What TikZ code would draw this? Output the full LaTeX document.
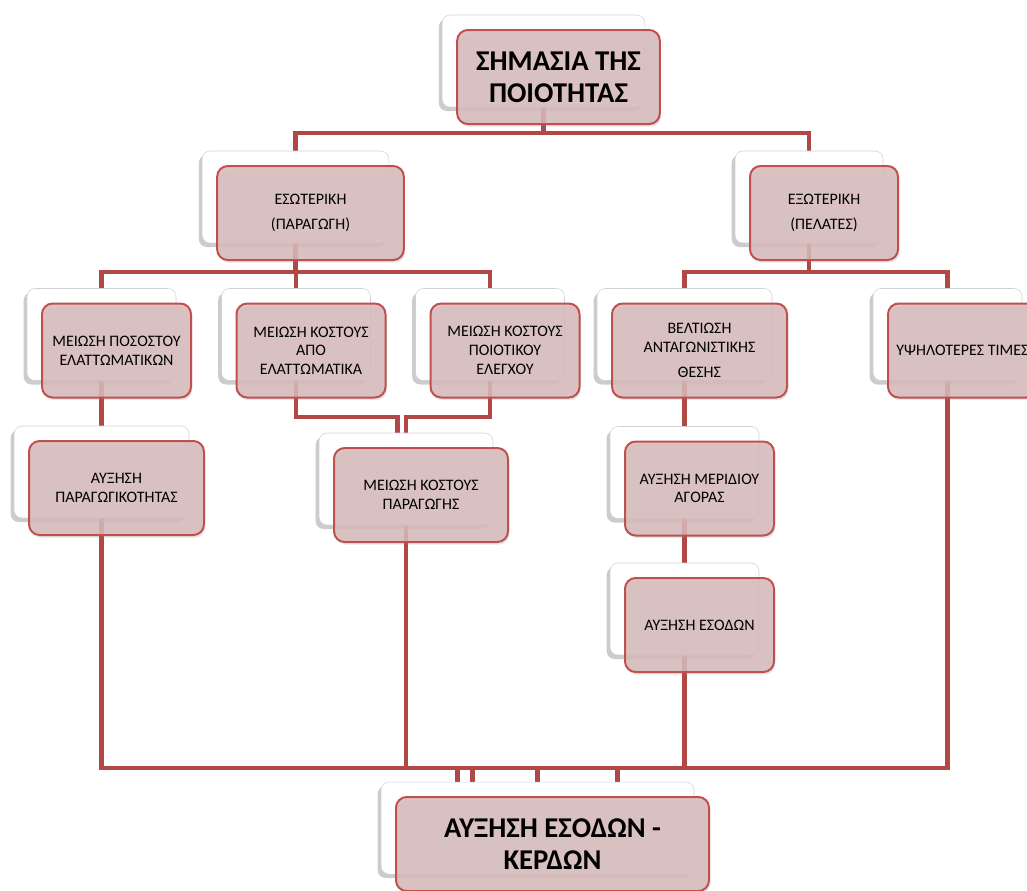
\documentclass[tikz,border=0pt]{standalone}
\usepackage{fontspec}
\setmainfont{Carlito}
\usetikzlibrary{shadows,backgrounds,calc}

\definecolor{accred}{RGB}{192,80,77}
\definecolor{linered}{RGB}{178,72,70}
\definecolor{boxpink}{RGB}{217,187,187}

\begin{document}
\begin{tikzpicture}[x=0.75pt, y=-0.75pt,
  backbox/.style={draw=black!18, fill=white, rounded corners=6pt, minimum width=#1, minimum height=69pt,
    drop shadow={shadow xshift=-2.5pt, shadow yshift=-3pt, opacity=0.4}},
  frontbox/.style={draw=accred, line width=1.5pt, fill=boxpink, fill opacity=0.85, text opacity=1,
    rounded corners=8pt, minimum width=#1, minimum height=70.5pt, align=center, inner xsep=1pt,
    font=\fontsize{12}{14}\selectfont, drop shadow={shadow xshift=1pt, shadow yshift=-2pt, opacity=0.2}},
  big/.style={font=\fontsize{21.5}{24}\selectfont\bfseries},
  conn/.style={draw=linered, line width=3.5pt}]
  \useasboundingbox (0,0) rectangle (1027,890);
  \clip (0,0) rectangle (1027,890);

  % Top
  \node[backbox=152pt] (topb) at (543.5,61) {};
  \node[frontbox=152pt, big] (top) at (558.5,77) {ΣΗΜΑΣΙΑ ΤΗΣ\\ΠΟΙΟΤΗΤΑΣ};

  % Level 2
  \node[backbox=140pt] (esob) at (295.5,197) {};
  \node[frontbox=140pt] (eso) at (310.5,213) {ΕΣΩΤΕΡΙΚΗ\\[5pt](ΠΑΡΑΓΩΓΗ)};
  \node[backbox=111pt] (exob) at (809,197) {};
  \node[frontbox=111pt] (exo) at (824,213) {ΕΞΩΤΕΡΙΚΗ\\[5pt](ΠΕΛΑΤΕΣ)};

  % Level 3
  \node[backbox=111.75pt] (posb) at (101.5,334.5) {};
  \node[frontbox=111.75pt] (pos) at (116.5,350.5) {ΜΕΙΩΣΗ ΠΟΣΟΣΤΟΥ\\ΕΛΑΤΤΩΜΑΤΙΚΩΝ};
  \node[backbox=111.75pt] (elab) at (296,334.5) {};
  \node[frontbox=111.75pt] (ela) at (311,350.5) {ΜΕΙΩΣΗ ΚΟΣΤΟΥΣ\\ΑΠΟ\\ΕΛΑΤΤΩΜΑΤΙΚΑ};
  \node[backbox=111.75pt] (elegb) at (490,334.5) {};
  \node[frontbox=111.75pt] (eleg) at (505,350.5) {ΜΕΙΩΣΗ ΚΟΣΤΟΥΣ\\ΠΟΙΟΤΙΚΟΥ\\ΕΛΕΓΧΟΥ};
  \node[backbox=131.25pt] (thesb) at (684.5,334.5) {};
  \node[frontbox=131.25pt] (thes) at (699.5,350.5) {ΒΕΛΤΙΩΣΗ\\ΑΝΤΑΓΩΝΙΣΤΙΚΗΣ\\[5pt]ΘΕΣΗΣ};
  \node[backbox=111.75pt] (timb) at (947.5,334.5) {};
  \node[frontbox=111.75pt] (tim) at (962.5,350.5) {ΥΨΗΛΟΤΕΡΕΣ ΤΙΜΕΣ};

  % Level 4
  \node[backbox=131.25pt] (parb) at (101.5,472) {};
  \node[frontbox=131.25pt] (par) at (116.5,488) {ΑΥΞΗΣΗ\\ΠΑΡΑΓΩΓΙΚΟΤΗΤΑΣ};
  \node[backbox=130.5pt] (kosb) at (406,479) {};
  \node[frontbox=130.5pt] (kos) at (421,495) {ΜΕΙΩΣΗ ΚΟΣΤΟΥΣ\\ΠΑΡΑΓΩΓΗΣ};
  \node[backbox=111.75pt] (merb) at (684.5,472.5) {};
  \node[frontbox=111.75pt] (mer) at (699.5,488.5) {ΑΥΞΗΣΗ ΜΕΡΙΔΙΟΥ\\ΑΓΟΡΑΣ};

  % Level 5
  \node[backbox=111.75pt] (esodb) at (684.5,609) {};
  \node[frontbox=111.75pt] (esod) at (699.5,625) {ΑΥΞΗΣΗ ΕΣΟΔΩΝ};

  % Bottom
  \node[backbox=234.75pt] (kerb) at (537.5,828) {};
  \node[frontbox=234.75pt, big] (ker) at (552.5,844) {ΑΥΞΗΣΗ ΕΣΟΔΩΝ -\\ΚΕΡΔΩΝ};
  \coordinate (bottombus) at (537.5,768);

  % Connectors
  \begin{scope}[on background layer]
    \fill[white] (0,0) rectangle (1027,890);
    \draw[conn] (topb.center) -- ++(0,72) -| (esob.center);
    \draw[conn] (topb.center) -- ++(0,72) -| (exob.center);

    \draw[conn] (esob.center) -- ++(0,75) -| (posb.center);
    \draw[conn] (esob.center) -- ++(0,75) -| (elab.center);
    \draw[conn] (esob.center) -- ++(0,75) -| (elegb.center);
    \draw[conn] (exob.center) -- ++(0,75) -| (thesb.center);
    \draw[conn] (exob.center) -- ++(0,75) -| (timb.center);

    \draw[conn] (posb.center) -- (parb.center);
    \draw[conn] (elab.center) -- ++(0,82.5) -| ($(kosb.center)+(-8.5,0)$);
    \draw[conn] (elegb.center) -- ++(0,82.5) -| (kosb.center);
    \draw[conn] (thesb.center) -- (merb.center);
    \draw[conn] (merb.center) -- (esodb.center);

    \draw[conn] (parb.center) |- (bottombus) -| ($(kerb.center)+(-80,0)$);
    \draw[conn] (kosb.center) |- (bottombus) -| ($(kerb.center)+(-65,0)$);
    \draw[conn] (esodb.center) |- (bottombus) -| (kerb.center);
    \draw[conn] (timb.center) |- (bottombus) -| ($(kerb.center)+(80,0)$);
  \end{scope}
\end{tikzpicture}
\end{document}
